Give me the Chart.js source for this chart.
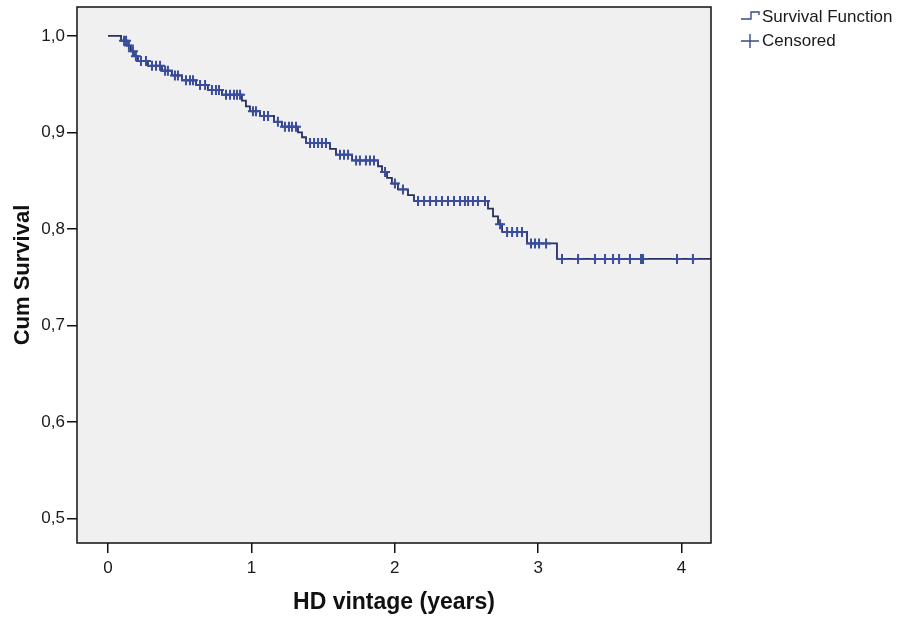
<!DOCTYPE html>
<html>
<head>
<meta charset="utf-8">
<script src="https://cdn.jsdelivr.net/npm/chart.js@4"></script>
<style>
  html, body { margin: 0; padding: 0; background: #fff; }
  #wrap { width: 910px; height: 622px; }
</style>
</head>
<body>
<div id="wrap"><canvas id="kmChart"></canvas></div>
<script>
// Kaplan-Meier curve, values
var eventTimes = [0.091, 0.132, 0.160, 0.181, 0.209, 0.279, 0.377, 0.446, 0.516, 0.614,
  0.697, 0.795, 0.934, 0.962, 0.990, 1.060, 1.158, 1.213, 1.325, 1.353,
  1.381, 1.548, 1.590, 1.702, 1.883, 1.911, 1.946, 1.980, 2.022, 2.092,
  2.134, 2.650, 2.685, 2.720, 2.748, 2.922, 3.131];
var survival = [0.995, 0.990, 0.984, 0.979, 0.974, 0.969, 0.964, 0.959, 0.954, 0.949,
  0.944, 0.939, 0.933, 0.927, 0.922, 0.917, 0.911, 0.906, 0.900, 0.895,
  0.889, 0.883, 0.877, 0.871, 0.865, 0.859, 0.853, 0.847, 0.841, 0.835,
  0.829, 0.821, 0.813, 0.805, 0.797, 0.785, 0.769];
var censorTimes = [0.112, 0.126, 0.146, 0.174, 0.195, 0.230, 0.265, 0.307, 0.335, 0.363,
  0.398, 0.418, 0.467, 0.488, 0.544, 0.572, 0.593, 0.642, 0.677, 0.725,
  0.753, 0.774, 0.823, 0.851, 0.879, 0.900, 0.921, 1.011, 1.032, 1.088,
  1.116, 1.185, 1.234, 1.262, 1.283, 1.311, 1.409, 1.437, 1.465, 1.492,
  1.520, 1.618, 1.646, 1.674, 1.730, 1.757, 1.799, 1.827, 1.855, 1.932,
  2.001, 2.057, 2.162, 2.204, 2.246, 2.288, 2.329, 2.371, 2.413, 2.455,
  2.489, 2.511, 2.545, 2.580, 2.629, 2.734, 2.783, 2.818, 2.853, 2.887,
  2.950, 2.978, 3.006, 3.055, 3.166, 3.278, 3.396, 3.466, 3.522, 3.564,
  3.640, 3.717, 3.731, 3.968, 4.079];
var xTicks = [0, 1, 2, 3, 4];
var yTicks = [0.5, 0.6, 0.7, 0.8, 0.9, 1.0];

function survAt(t) {
  var s = 1;
  for (var i = 0; i < eventTimes.length; i++) {
    if (eventTimes[i] <= t) s = survival[i];
  }
  return s;
}

var xMin = -0.216, xMax = 4.205;

var stepPts = [{x: 0, y: 1}];
for (var i = 0; i < eventTimes.length; i++) stepPts.push({x: eventTimes[i], y: survival[i]});
stepPts.push({x: xMax, y: survival[survival.length - 1]});

var censorPts = censorTimes.map(function (t) { return {x: t, y: survAt(t)}; });

var bgPlugin = {
  id: 'plotBox',
  beforeDraw: function (chart) {
    var a = chart.chartArea, ctx = chart.ctx;
    ctx.save();
    ctx.fillStyle = '#f0f0f0';
    ctx.fillRect(a.left, a.top, a.right - a.left, a.bottom - a.top);
    ctx.restore();
  },
  afterDraw: function (chart) {
    var a = chart.chartArea, ctx = chart.ctx;
    ctx.save();
    ctx.strokeStyle = '#111';
    ctx.lineWidth = 1.5;
    ctx.strokeRect(a.left, a.top, a.right - a.left, a.bottom - a.top);

    // legend
    ctx.strokeStyle = '#3a4a8a';
    ctx.lineWidth = 1.4;
    ctx.beginPath();
    ctx.moveTo(741, 19); ctx.lineTo(751, 19); ctx.lineTo(751, 12);
    ctx.lineTo(759, 12); ctx.lineTo(759, 15);
    ctx.stroke();
    ctx.beginPath();
    ctx.moveTo(741, 41); ctx.lineTo(759, 41);
    ctx.moveTo(750, 34); ctx.lineTo(750, 48);
    ctx.stroke();
    ctx.fillStyle = '#1a1a1a';
    ctx.font = '17px "Liberation Sans", Arial, sans-serif';
    ctx.textBaseline = 'middle';
    ctx.fillText('Survival Function', 762, 17);
    ctx.fillText('Censored', 762, 41);
    ctx.restore();
  }
};

var ctx = document.getElementById('kmChart').getContext('2d');
var kmChart = new Chart(ctx, {
  type: 'scatter',
  data: {
    datasets: [{
      label: 'Censored',
      data: censorPts,
      showLine: false,
      pointStyle: 'cross',
      pointRadius: 5,
      borderColor: '#3a4d9c',
      borderWidth: 2,
      order: 0
    }, {
      label: 'Survival Function',
      data: stepPts,
      showLine: true,
      stepped: true,
      pointRadius: 0,
      borderColor: '#263060',
      borderWidth: 1.8,
      order: 1
    }]
  },
  options: {
    responsive: true,
    maintainAspectRatio: false,
    animation: false,
    layout: { padding: { top: 5, right: 199, left: 0, bottom: 0 } },
    plugins: { legend: { display: false }, tooltip: { enabled: false } },
    scales: {
      x: {
        type: 'linear',
        min: xMin,
        max: xMax,
        afterBuildTicks: function (s) { s.ticks = xTicks.map(function (v) { return {value: v}; }); },
        afterFit: function (s) { s.height = 79; s.paddingLeft = 0; s.paddingRight = 0; },
        grid: { drawOnChartArea: false, drawTicks: true, tickLength: 10, color: '#111', lineWidth: 1.5 },
        border: { display: false },
        ticks: {
          color: '#1a1a1a',
          padding: 5,
          font: { family: '"Liberation Sans", Arial, sans-serif', size: 17 },
          callback: function (v) { return String(v); }
        },
        title: {
          display: true,
          text: 'HD vintage (years)',
          color: '#111',
          font: { family: '"Liberation Sans", Arial, sans-serif', size: 23, weight: 'bold' },
          padding: { top: 0, bottom: 6 }
        }
      },
      y: {
        type: 'linear',
        min: 0.4748,
        max: 1.0299,
        afterBuildTicks: function (s) { s.ticks = yTicks.map(function (v) { return {value: v}; }); },
        afterFit: function (s) { s.width = 77; s.paddingTop = 0; s.paddingBottom = 0; },
        grid: { drawOnChartArea: false, drawTicks: true, tickLength: 10, color: '#111', lineWidth: 1.5 },
        border: { display: false },
        ticks: {
          color: '#1a1a1a',
          padding: 2,
          font: { family: '"Liberation Sans", Arial, sans-serif', size: 17 },
          callback: function (v) { return v.toFixed(1).replace('.', ','); }
        },
        title: {
          display: true,
          text: 'Cum Survival',
          color: '#111',
          font: { family: '"Liberation Sans", Arial, sans-serif', size: 22, weight: 'bold' },
          padding: { top: 10, bottom: 0 }
        }
      }
    }
  },
  plugins: [bgPlugin]
});
</script>
</body>
</html>
